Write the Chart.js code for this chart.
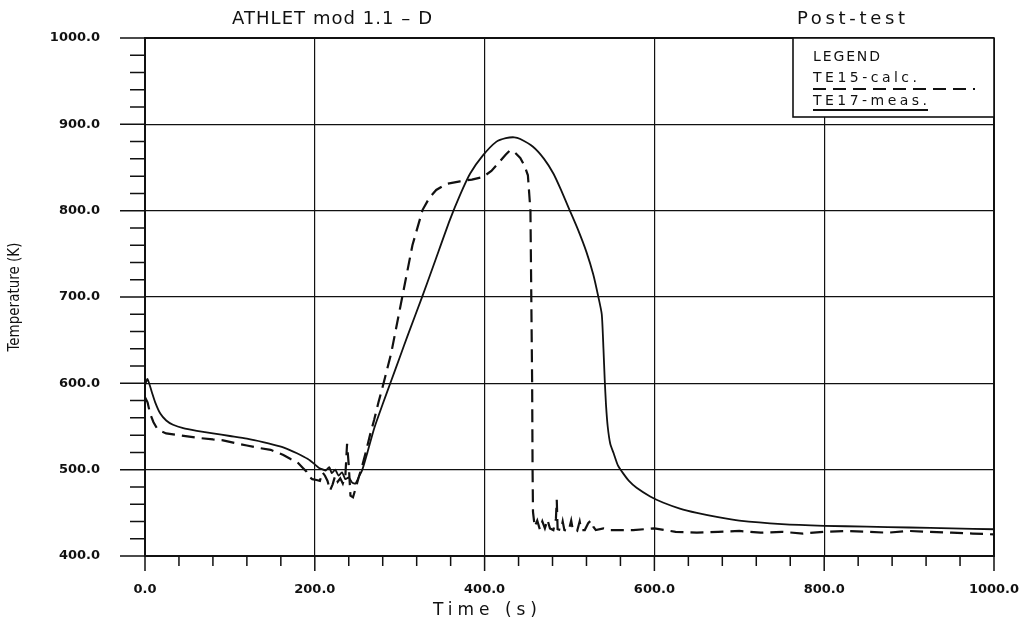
<!DOCTYPE html>
<html>
<head>
<meta charset="utf-8">
<script src="https://cdn.jsdelivr.net/npm/chart.js@4.4.1/dist/chart.umd.min.js"></script>
<style>
  html, body { margin: 0; padding: 0; background: #fff; }
  #wrap { width: 1021px; height: 627px; }
</style>
</head>
<body>
<div id="wrap"><canvas id="chart" width="1021" height="627"></canvas></div>
<script>
// TE15 - calcul ATHLET (tirets)
const calcTime = [0, 3, 6, 10, 14, 20, 25, 40, 61, 80, 92, 110, 120, 135, 148, 163, 172, 179, 186, 190,
  193, 197, 202, 206, 209, 212, 215, 218, 221, 224, 227, 230, 233, 236, 238, 240, 242, 245, 248, 252,
  256, 260, 265, 270, 275, 281, 290, 303, 315, 327, 335, 343, 355, 371, 385, 398, 408, 418, 425, 430,
  436, 442, 447, 451, 454, 455, 456, 456.5, 457, 459, 462, 465, 468, 471, 474, 477, 481, 484, 485,
  486, 490, 492, 494, 499, 502, 504, 509, 512, 514, 518, 522, 525, 528, 531, 540, 548, 575, 600,
  625, 650, 675, 700, 725, 750, 775, 800, 825, 850, 875, 900, 925, 950, 975, 1000];
const calcTemp = [584, 578, 565, 555, 548, 544, 542, 540, 537, 535, 534, 530, 528, 525, 523, 517, 512, 509, 502, 498,
  492, 489, 488, 487, 497, 493, 487, 476, 483, 493, 486, 490, 484, 493, 530, 505, 470, 468, 478, 492,
  505, 520, 540, 558, 578, 600, 635, 700, 760, 801, 815, 824, 831, 834, 836, 839, 846, 857, 865, 870,
  867, 861, 852, 841, 800, 700, 600, 500, 451, 434, 441, 431, 440, 432, 442, 432, 430, 443, 465,
  431, 430, 440, 430, 429, 441, 430, 429, 440, 430, 430, 438, 441, 434, 430, 432, 430, 430, 432,
  428, 427, 428, 429, 427, 428, 426, 428, 429, 428, 427, 429, 428, 427, 426, 425];

// TE17 - mesure (trait plein)
const measTime = [0, 3, 8, 12, 18, 25, 33, 45, 61, 80, 100, 120, 139, 159, 170, 179, 187, 194, 200, 205,
  210, 213, 217, 220, 224, 228, 232, 236, 240, 244, 248, 252, 256, 262, 270, 280, 290, 300, 310, 326,
  340, 359, 371, 383, 398, 414, 425, 435, 442, 457, 470, 481, 490, 500, 510, 520, 528, 534, 538, 540,
  541.5, 543, 545, 548, 552, 557, 563, 570, 579, 595, 610, 630, 650, 675, 700, 750, 800, 850, 900, 950, 1000];
const measTemp = [598, 605, 590, 578, 565, 557, 552, 548, 545, 542, 539, 536, 532, 527, 523, 519, 515, 511, 506, 502,
  500, 499, 503, 496, 500, 493, 497, 489, 491, 485, 484, 492, 500, 520, 548, 576, 603, 630, 657, 699,
  737, 789, 818, 843, 864, 880, 884, 885, 883, 874, 860, 843, 824, 801, 778, 752, 726, 700, 680, 640,
  604, 575, 550, 530, 519, 505, 496, 487, 479, 469, 462, 455, 450, 445, 441, 437, 435, 434, 433, 432, 431];

const xMajor = [0, 200, 400, 600, 800, 1000];
const yMajor = [400, 500, 600, 700, 800, 900, 1000];

const INK = '#111';

function toPoints(xs, ys) {
    return xs.map((x, i) => ({ x: x, y: ys[i] }));
}

// étale un texte sur une largeur donnée (police de traceur)
function spread(ctx, text, x, y, width) {
    ctx.letterSpacing = '0px';
    const w = ctx.measureText(text).width;
    const ls = text.length > 1 ? (width - w) / (text.length - 1) : 0;
    ctx.letterSpacing = ls + 'px';
    ctx.fillText(text, x, y);
    ctx.letterSpacing = '0px';
}

// pas de marge automatique pour les libellés qui débordent
function noOverflow(scale) {
    scale.paddingTop = 0;
    scale.paddingBottom = 0;
    scale.paddingLeft = 0;
    scale.paddingRight = 0;
}

const decorPlugin = {
    id: 'decor',
    afterDraw(chart) {
        const ctx = chart.ctx;
        const area = chart.chartArea;
        const xs = chart.scales.x;
        const ys = chart.scales.y;
        ctx.save();
        ctx.strokeStyle = INK;
        ctx.fillStyle = INK;

        // graduations
        ctx.lineWidth = 1.5;
        ctx.beginPath();
        xs.ticks.forEach(t => {
            const px = xs.getPixelForValue(t.value);
            const len = xMajor.includes(t.value) ? 15 : 10;
            ctx.moveTo(px, area.bottom);
            ctx.lineTo(px, area.bottom + len);
        });
        ys.ticks.forEach(t => {
            const py = ys.getPixelForValue(t.value);
            const len = yMajor.includes(t.value) ? 25 : 15;
            ctx.moveTo(area.left - len, py);
            ctx.lineTo(area.left, py);
        });
        ctx.stroke();

        // titre
        ctx.textBaseline = 'alphabetic';
        ctx.textAlign = 'left';
        ctx.font = '18px "DejaVu Sans"';
        spread(ctx, 'ATHLET mod 1.1 – D', 232, 24, 200);
        spread(ctx, 'Post-test', 797, 24, 108);

        // titre de l'axe des x
        ctx.font = '17px "DejaVu Sans"';
        spread(ctx, 'Time (s)', 433, 615, 104);

        // boîte de légende
        const bx = 793, by = area.top, bw = area.right - bx, bh = 117 - area.top;
        ctx.fillStyle = '#fff';
        ctx.fillRect(bx, by, bw, bh);
        ctx.lineWidth = 1.6;
        ctx.strokeRect(bx, by, bw, bh);
        ctx.fillStyle = INK;
        ctx.font = '14px "DejaVu Sans"';
        spread(ctx, 'LEGEND', 813, 61, 67);
        const ds = chart.data.datasets;
        spread(ctx, ds[0].label, 813, 82, 104);
        spread(ctx, ds[1].label, 813, 105, 114);

        ctx.lineWidth = ds[0].borderWidth;
        ctx.setLineDash(ds[0].borderDash);
        ctx.beginPath();
        ctx.moveTo(813, 89);
        ctx.lineTo(975, 89);
        ctx.stroke();
        ctx.setLineDash([]);
        ctx.lineWidth = ds[1].borderWidth;
        ctx.beginPath();
        ctx.moveTo(813, 110);
        ctx.lineTo(928, 110);
        ctx.stroke();

        ctx.restore();
    }
};

new Chart(document.getElementById('chart').getContext('2d'), {
    type: 'line',
    data: {
        datasets: [{
            label: 'TE15-calc.',
            data: toPoints(calcTime, calcTemp),
            borderColor: INK,
            borderWidth: 2.2,
            borderDash: [13, 7],
            pointRadius: 0,
            tension: 0,
            fill: false
        }, {
            label: 'TE17-meas.',
            data: toPoints(measTime, measTemp),
            borderColor: INK,
            borderWidth: 1.8,
            pointRadius: 0,
            tension: 0.2,
            fill: false
        }]
    },
    options: {
        responsive: false,
        animation: false,
        devicePixelRatio: 1,
        layout: { padding: { top: 38, right: 27, left: 0, bottom: 0 } },
        plugins: {
            legend: { display: false },
            tooltip: { enabled: false },
            title: { display: false }
        },
        scales: {
            x: {
                type: 'linear',
                min: 0,
                max: 1000,
                afterFit(scale) { scale.height = 71; noOverflow(scale); },
                border: { display: true, color: INK, width: 2 },
                grid: {
                    drawTicks: false,
                    color: c => xMajor.includes(c.tick.value) ? INK : 'rgba(0,0,0,0)',
                    lineWidth: c => (c.tick.value === 0 || c.tick.value === 1000) ? 2 : 1.2
                },
                ticks: {
                    stepSize: 40,
                    autoSkip: false,
                    maxRotation: 0,
                    padding: 26,
                    color: INK,
                    font: { family: 'DejaVu Sans', size: 13, weight: 'bold' },
                    callback: v => xMajor.includes(v) ? v.toFixed(1) : ''
                }
            },
            y: {
                min: 400,
                max: 1000,
                afterFit(scale) { scale.width = 145; noOverflow(scale); },
                border: { display: true, color: INK, width: 2 },
                grid: {
                    drawTicks: false,
                    color: c => yMajor.includes(c.tick.value) ? INK : 'rgba(0,0,0,0)',
                    lineWidth: c => (c.tick.value === 400 || c.tick.value === 1000) ? 2 : 1.2
                },
                ticks: {
                    stepSize: 20,
                    autoSkip: false,
                    padding: 45,
                    color: INK,
                    font: { family: 'DejaVu Sans', size: 13, weight: 'bold' },
                    callback: v => yMajor.includes(v) ? v.toFixed(1) : ''
                },
                title: {
                    display: true,
                    text: 'Temperature (K)',
                    color: INK,
                    padding: { top: 6, bottom: 0 },
                    font: { family: 'DejaVu Sans Condensed', size: 15 }
                }
            }
        }
    },
    plugins: [decorPlugin]
});
</script>
</body>
</html>
